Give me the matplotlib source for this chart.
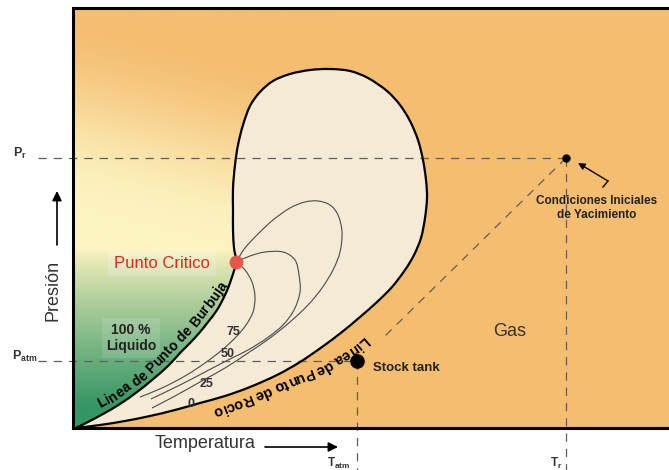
import matplotlib
matplotlib.use("Agg")
import matplotlib.pyplot as plt
import numpy as np
from matplotlib.path import Path
from matplotlib.patches import PathPatch
from matplotlib.font_manager import FontProperties
from matplotlib.textpath import TextToPath

plt.rcParams['font.family'] = ['Liberation Sans', 'DejaVu Sans']
plt.rcParams['lines.scale_dashes'] = False
plt.rcParams['mathtext.fontset'] = 'custom'
plt.rcParams['mathtext.rm'] = 'Liberation Sans'
plt.rcParams['mathtext.bf'] = 'Liberation Sans:bold'

# ---------------- data (schematic units: temperature T, pressure P) ----------------
env_T = [3, 15, 30, 47, 64, 79, 95, 107, 117, 127, 135, 144, 152, 158, 163,
         161, 160, 160, 160, 162, 165, 170, 177, 187, 200, 217, 237, 257, 277, 295,
         314, 327, 337, 345, 350, 353, 354,
         352, 348, 341, 332, 319, 304, 287, 269, 249, 227, 204, 177, 152, 127, 102,
         77, 52, 27, 3]
env_P = [0, 6, 14, 24, 36, 48, 62, 75, 85, 96, 106, 118, 133, 148, 166,
         180, 198, 218, 240, 263, 283, 303, 322, 336, 347, 354, 358, 359, 357, 350,
         337, 323, 307, 288, 268, 248, 230,
         210, 190, 173, 158, 141, 126, 111, 96, 81, 66, 53, 41, 32, 25, 18,
         12, 7, 3, 0]
top_idx = 27       # top of envelope (index in env arrays)

q75_T = [163, 172, 179, 182, 180, 173, 163, 149, 132, 112, 89, 67]
q75_P = [166, 158, 146, 131, 116, 103, 91, 78, 65, 52, 40, 31]
q50_T = [163, 177, 192, 210, 222, 226, 227, 221, 210, 194, 175, 155, 132, 107, 78]
q50_P = [166, 172, 176, 176, 168, 153, 136, 118, 103, 90, 78, 68, 56, 43, 29]
q25_T = [163, 172, 185, 200, 217, 232, 245, 257, 265, 269, 267, 260, 249, 235,
         217, 197, 175, 152, 127, 102, 79]
q25_P = [166, 180, 194, 208, 220, 226, 227, 223, 213, 196, 176, 158, 140, 123,
         106, 90, 75, 60, 46, 32, 20]
quality_labels = ['75', '50', '25', '0']
quality_label_T = [160, 155, 134, 118]
quality_label_P = [96, 74, 44, 24]

crit_T, crit_P = 163, 166
T_atm, P_atm = 284, 67
T_r, P_r = 493, 270
sep_end_T, sep_end_P = 310, 90

bubble_label = 'Linea de Punto de Burbuja'
bubble_guide_T = [22, 39, 67, 91, 116, 138, 152]
bubble_guide_P = [23, 32, 51, 75, 100, 128, 148]
dew_label = 'Linea de Punto de Rocio'
dew_guide_T = [298, 282, 254, 223, 189, 156, 136]
dew_guide_P = [92, 78, 60, 48, 33, 20, 12]


# ---------------- helpers ----------------
def smooth_path(xs, ys):
    pts = np.column_stack([xs, ys]).astype(float)
    n = len(pts)
    verts = [pts[0]]
    codes = [Path.MOVETO]
    for i in range(n - 1):
        p0 = pts[i - 1] if i > 0 else pts[i]
        p1, p2 = pts[i], pts[i + 1]
        p3 = pts[i + 2] if i + 2 < n else pts[i + 1]
        verts += [p1 + (p2 - p0) / 6.0, p2 - (p3 - p1) / 6.0, p2]
        codes += [Path.CURVE4] * 3
    return np.array(verts), codes


ttp = TextToPath()


def text_on_guide(ax, s, gx, gy, size, **kw):
    prop = FontProperties(family='Liberation Sans', weight='bold', size=size)

    def wpx(txt):
        w, h, d = ttp.get_text_width_height_descent(txt, prop, ismath=False)
        return w * 100.0 / 72.0

    total = wpx(s)
    g = np.column_stack([gx, gy]).astype(float)
    seg = np.diff(g, axis=0)
    seglen = np.hypot(seg[:, 0], seg[:, 1])
    cum = np.concatenate([[0], np.cumsum(seglen)])
    start = (cum[-1] - total) / 2.0
    for i, ch in enumerate(s):
        if ch == ' ':
            continue
        right = wpx(s[:i + 1])
        a = start + right - wpx(ch) / 2.0
        k = int(np.clip(np.searchsorted(cum, a) - 1, 0, len(seg) - 1))
        f = (a - cum[k]) / seglen[k]
        pos = g[k] + f * seg[k]
        ang = np.degrees(np.arctan2(seg[k, 1], seg[k, 0]))
        ax.text(pos[0], pos[1], ch, fontproperties=prop, rotation=ang,
                rotation_mode='anchor', ha='center', va='center_baseline', **kw)


# ---------------- figure ----------------
W, H = 669, 470
fig = plt.figure(figsize=(W / 100, H / 100), dpi=100)
fig.patch.set_facecolor('white')
ax = fig.add_axes([73 / W, 42 / H, 600 / W, 420 / H])

orange = np.array([245, 189, 112]) / 255
yellow = np.array([252, 243, 192]) / 255
green = np.array([52, 150, 100]) / 255
ax.set_facecolor(orange)

# background gradient on the liquid side
Tg = np.linspace(0, 600, 301)
Pg = np.linspace(0, 420, 211)
TT, PP = np.meshgrid(Tg, Pg)
u = np.clip((PP - 225 + 0.25 * TT) / 190, 0, 1)
wy = 1 - u * u * (3 - 2 * u)
wg = np.clip((178 - PP) / 158, 0, 1) ** 0.85
img = orange * (1 - wy[..., None]) + yellow * wy[..., None]
img = img * (1 - wg[..., None]) + green * wg[..., None]
im = ax.imshow(img, extent=[0, 600, 0, 420], origin='lower', aspect='auto',
               zorder=0, interpolation='bilinear')

env_verts, env_codes = smooth_path(env_T, env_P)
nclip = 1 + 3 * top_idx
cverts = list(env_verts[:nclip]) + [(env_T[top_idx], 425), (-5, 425), (-5, -5),
                                     (env_T[0], -5), (env_T[0], env_P[0])]
ccodes = list(env_codes[:nclip]) + [Path.LINETO] * 5
ccodes[-1] = Path.CLOSEPOLY
clip_patch = PathPatch(Path(cverts, ccodes), transform=ax.transData)
im.set_clip_path(clip_patch)

ax.set_xlim(0, 600)
ax.set_ylim(0, 420)
ax.set_xticks([])
ax.set_yticks([])
for s in ['left', 'top', 'bottom']:
    ax.spines[s].set_linewidth(2.2)
    ax.spines[s].set_color('black')
    ax.spines[s].set_zorder(10)
ax.spines['right'].set_visible(False)

# envelope
env_path = Path(env_verts, env_codes)
ax.add_patch(PathPatch(env_path, facecolor='#F4EAD5', edgecolor='none', zorder=1))
ax.add_patch(PathPatch(env_path, facecolor='none', edgecolor='black', lw=1.6,
                       zorder=4, joinstyle='round'))

# quality lines
for qt, qp in [(q75_T, q75_P), (q50_T, q50_P), (q25_T, q25_P)]:
    v, c = smooth_path(qt, qp)
    ax.add_patch(PathPatch(Path(v, c), facecolor='none', edgecolor='#4a4a4a',
                           lw=0.8, zorder=2))
for lab, lt, lp in zip(quality_labels, quality_label_T, quality_label_P):
    ax.text(lt, lp, lab, fontsize=9, fontweight='bold', color='#333333',
            ha='center', va='center', zorder=5)

# dashed reference lines
dash = dict(color='#5e5e5e', lw=0.9, linestyle=(0, (6, 5)), clip_on=False, zorder=3)
ax.plot([-35, T_r], [P_r, P_r], **dash)
ax.plot([-35, T_atm], [P_atm, P_atm], **dash)
ax.plot([T_atm, T_atm], [P_atm, -42], **dash)
ax.plot([T_r, T_r], [P_r, -42], **dash)
ax.plot([T_r, sep_end_T], [P_r, sep_end_P], **dash)

# points
ax.plot([crit_T], [crit_P], 'o', color='#E5574A', markersize=9, zorder=6)
ax.plot([T_atm], [P_atm], 'o', color='black', markersize=9.5, zorder=6)
ax.plot([T_r], [P_r], 'o', color='black', markersize=5, zorder=6)

# texts inside
ax.text(89, 165, 'Punto Critico', color='#E8251F', fontsize=12, ha='center', va='center',
        zorder=6, bbox=dict(boxstyle='square,pad=0.35', fc='white', ec='none', alpha=0.18))
ax.text(58, 90, '100 %\nLiquido', color='#222222', fontsize=10, fontweight='bold',
        ha='center', va='center', linespacing=1.25, zorder=6,
        bbox=dict(boxstyle='square,pad=0.3', fc='white', ec='none', alpha=0.12))
ax.text(437, 97, 'Gas', color='#333333', fontsize=13, ha='center', va='center', zorder=6)
ax.text(300, 60, 'Stock tank', color='#222222', fontsize=9.5, fontweight='bold',
        ha='left', va='center', zorder=6)
ax.text(524, 220, 'Condiciones Iniciales\nde Yacimiento', color='#222222', fontsize=8.5,
        fontweight='bold', ha='center', va='center', linespacing=1.3, zorder=6)

# arrow to initial conditions
ax.plot([530, 535], [241, 247], color='black', lw=1.0, zorder=6)
ax.annotate('', xy=(505, 265), xytext=(535, 247),
            arrowprops=dict(arrowstyle='-|>', color='black', lw=1.0, mutation_scale=10,
                            shrinkA=0, shrinkB=0), zorder=6)

# curved labels along bubble and dew lines
text_on_guide(ax, bubble_label, bubble_guide_T, bubble_guide_P, 10, color='black', zorder=6)
text_on_guide(ax, dew_label, dew_guide_T, dew_guide_P, 10.5, color='black', zorder=6)

# axis labels and arrows (outside the frame)
ax.text(-20, 138, 'Presión', fontsize=13, color='#333333', rotation=90,
        ha='center', va='center', clip_on=False)
ax.annotate('', xy=(-16, 237), xytext=(-16, 183), annotation_clip=False,
            arrowprops=dict(arrowstyle='-|>', color='black', lw=1.2, mutation_scale=14,
                            shrinkA=0, shrinkB=0))
ax.text(132, -16, 'Temperatura', fontsize=13, color='#333333',
        ha='center', va='center', clip_on=False)
ax.annotate('', xy=(265, -19), xytext=(192, -19), annotation_clip=False,
            arrowprops=dict(arrowstyle='-|>', color='black', lw=1.2, mutation_scale=14,
                            shrinkA=0, shrinkB=0))

ax.text(-60, 275, r'$\mathbf{P_{r}}$', fontsize=9, color='#333333', ha='left',
        va='center', clip_on=False)
ax.text(-61, 72, r'$\mathbf{P_{atm}}$', fontsize=9, color='#333333', ha='left',
        va='center', clip_on=False)
ax.text(254, -35, r'$\mathbf{T_{atm}}$', fontsize=8.5, color='#333333', ha='left',
        va='center', clip_on=False)
ax.text(477, -35, r'$\mathbf{T_{r}}$', fontsize=8.5, color='#333333', ha='left',
        va='center', clip_on=False)

fig.savefig('out.png', dpi=100, facecolor='white')
